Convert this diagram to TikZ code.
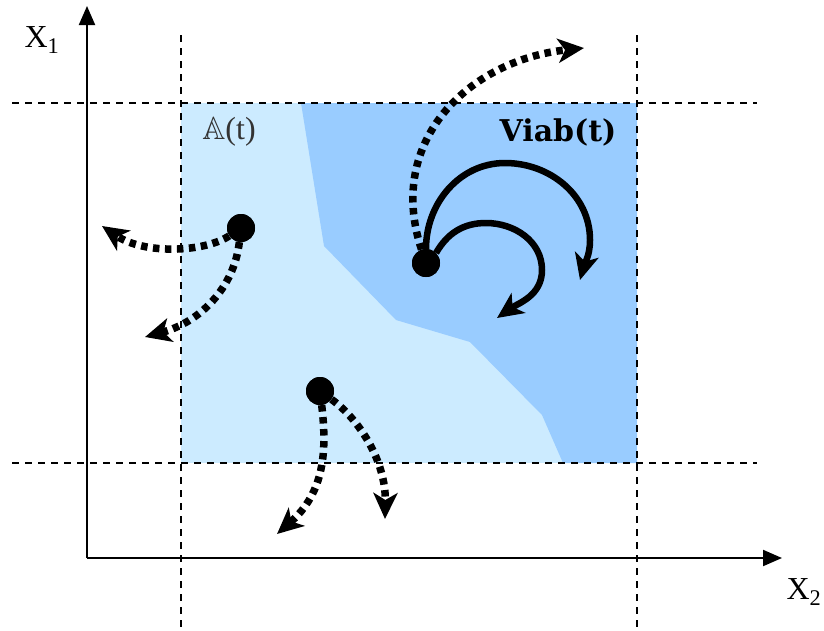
\documentclass[tikz,border=0pt]{standalone}
\usepackage{amssymb}
\usepackage{fontspec}
\setmainfont{Liberation Serif}
\newfontfamily\viabfont{DejaVu Serif}
\usetikzlibrary{arrows.meta}
\definecolor{lightreg}{HTML}{CCEBFF}
\definecolor{darkreg}{HTML}{99CCFF}
\tikzset{
  guide/.style={line width=1.6pt, dash pattern=on 7pt off 6pt},
  axis/.style={line width=2pt, -{Triangle[length=19pt,width=16pt]}},
  dotarrow/.style={line width=7.5pt, dash pattern=on 6.5pt off 5.5pt, -{Stealth[length=26pt,width=24pt,inset=7pt]}},
  solidarrow/.style={line width=6.5pt, -{Stealth[length=26pt,width=24pt,inset=7pt]}},
  statept/.style={circle, fill=black, inner sep=0pt, minimum size=28pt},
  lbl/.style={inner sep=0pt}
}
\begin{document}
\begin{tikzpicture}[x=1pt,y=-1pt]
\useasboundingbox (0,0) rectangle (824,630);
% regions
\fill[lightreg] (181,103) rectangle (637,463);
\fill[darkreg] (301,103) -- (637,103) -- (637,463) -- (563,463) -- (542,415) -- (470,342) -- (396,320) -- (324,246) -- cycle;
% guides
\draw[guide] (12,103) -- (757,103);
\draw[guide] (12,463) -- (757,463);
\draw[guide] (181,35) -- (181,630);
\draw[guide] (637,35) -- (637,630);
% axes
\coordinate (origin) at (87,558);
\coordinate (ytip) at (87,6);
\coordinate (xtip) at (782,558);
\draw[axis] (origin) -- (ytip);
\draw[axis] (origin) -- (xtip);
\node[lbl] (x1) at (42,40) {\fontsize{32}{34}\selectfont X\textsubscript{1}};
\node[lbl] (x2) at (804,592) {\fontsize{32}{34}\selectfont X\textsubscript{2}};
\node[lbl, text=black!80] (at) at (229,132) {\fontsize{32}{34}\selectfont $\mathbb{A}$(t)};
\node[lbl] (viab) at (558,132) {\fontsize{30}{32}\selectfont\viabfont\bfseries Viab(t)};
% points
\node[statept] (p1) at (241,228) {};
\node[statept] (p2) at (320,391) {};
\node[statept] (p3) at (426,263) {};
% free ends
\coordinate (e1) at (102,226);
\coordinate (e2) at (145,337);
\coordinate (e3) at (277,534);
\coordinate (e4) at (385,519);
\coordinate (e5) at (584,48);
\coordinate (e6) at (580,280);
\coordinate (e7) at (497,318);
% dotted arrows
\draw[dotarrow] (p1) .. controls (205,252) and (145,255) .. (e1);
\draw[dotarrow] (p1) .. controls (234,288) and (200,322) .. (e2);
\draw[dotarrow] (p2) .. controls (327,450) and (325,492) .. (e3);
\draw[dotarrow] (p2) .. controls (360,420) and (386,462) .. (e4);
\draw[dotarrow] (p3) .. controls (385,140) and (470,60) .. (e5);
% solid arcs
\draw[solidarrow] (p3.north) to[out=90,in=180] (505,163) to[out=0,in=90] (590,240) to[out=-90,in=75] (e6);
\draw[solidarrow] (p3.north east) to[out=60,in=180] (486,223) to[out=0,in=90] (542,270) to[out=-90,in=35] (e7);
% redraw points on top
\fill (p1) circle (14pt);
\fill (p2) circle (14pt);
\fill (p3) circle (14pt);
\end{tikzpicture}
\end{document}
